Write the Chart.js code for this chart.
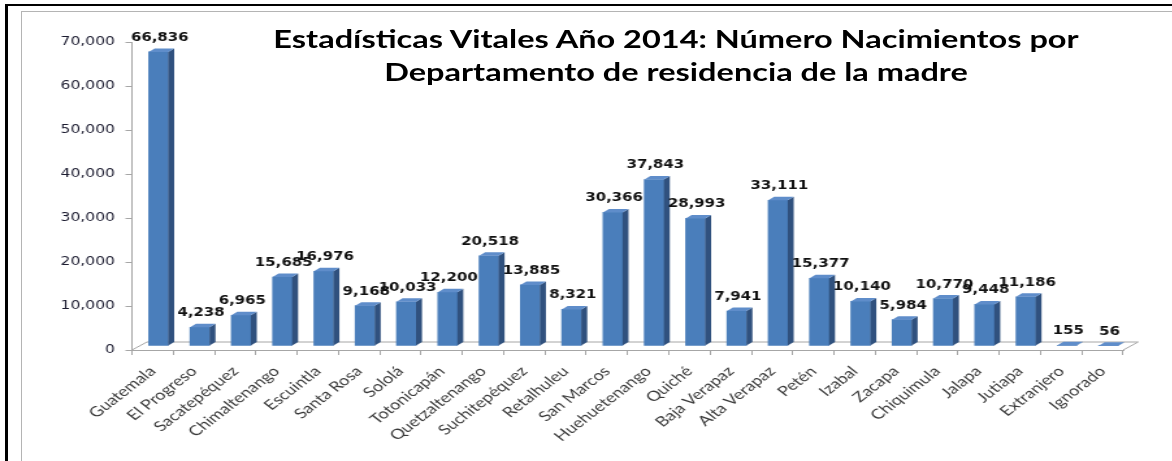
<!DOCTYPE html>
<html lang="es">
<head>
<meta charset="UTF-8">
<title>Nacimientos 2014</title>
<script src="https://cdn.jsdelivr.net/npm/chart.js@4.4.1/dist/chart.umd.min.js"></script>
<style>
  html, body { margin: 0; padding: 0; background: #fff; }
  body { width: 1172px; height: 461px; overflow: hidden; position: relative; }
  /* the original picture is stretched sideways, so the whole chart is too */
  #stage { position: absolute; left: 0; top: 0; width: 902px; height: 461px;
           transform: scaleX(1.3); transform-origin: 0 0; }
  #myChart { position: absolute; left: 0; top: 0; }
  #titulo { position: absolute; left: 0; top: 22px; width: 1040px; text-align: center;
            font: bold 25px Lato, sans-serif; line-height: 33.4px; color: #000; }
  .marco { position: absolute; }
</style>
</head>
<body>
<div class="marco" style="left:21px; top:11px; width:1200px; height:500px; border:1px solid #b4b4b4;"></div>
<div id="stage">
    <canvas id="myChart" width="902" height="461"></canvas>
    <div id="titulo">Estadísticas Vitales Año 2014: Número Nacimientos por<br>Departamento de residencia de la madre</div>
</div>
<div class="marco" style="left:5px; top:4px; width:1167px; height:2px; background:#000;"></div>
<div class="marco" style="left:5px; top:4px; width:3px; height:457px; background:#000;"></div>
<script>
    const departamentos = ['Guatemala', 'El Progreso', 'Sacatepéquez', 'Chimaltenango', 'Escuintla',
        'Santa Rosa', 'Sololá', 'Totonicapán', 'Quetzaltenango', 'Suchitepéquez', 'Retalhuleu',
        'San Marcos', 'Huehuetenango', 'Quiché', 'Baja Verapaz', 'Alta Verapaz', 'Petén', 'Izabal',
        'Zacapa', 'Chiquimula', 'Jalapa', 'Jutiapa', 'Extranjero', 'Ignorado'];
    const nacimientos = [66836, 4238, 6965, 15685, 16976, 9168, 10033, 12200, 20518, 13885, 8321,
        30366, 37843, 28993, 7941, 33111, 15377, 10140, 5984, 10770, 9448, 11186, 155, 56];
    const yTicks = [0, 10000, 20000, 30000, 40000, 50000, 60000, 70000];

    // fake 3d: bars pushed into the depth, plus side and top faces
    const DX = 4.5, DY = -4;
    const SIDE_X = 4.6, SIDE_Y = -3.5;
    const FLOOR_X = 11.5, FLOOR_Y = -8;

    const tresD = {
        id: 'tresD',
        beforeDatasetsDraw(chart) {
            const ctx = chart.ctx;
            const x = chart.scales.x, y = chart.scales.y;
            const y0 = y.getPixelForValue(0);
            ctx.save();
            ctx.beginPath();
            ctx.moveTo(x.left, y0);
            ctx.lineTo(x.left + FLOOR_X, y0 + FLOOR_Y);
            ctx.lineTo(x.right + FLOOR_X, y0 + FLOOR_Y);
            ctx.lineTo(x.right, y0);
            ctx.strokeStyle = '#a6a6a6';
            ctx.lineWidth = 1;
            ctx.stroke();
            ctx.restore();
            ctx.save();
            ctx.translate(DX, DY);
        },
        afterDatasetsDraw(chart) {
            const ctx = chart.ctx;
            const bars = chart.getDatasetMeta(0).data;
            bars.forEach(bar => {
                const p = bar.getProps(['x', 'y', 'base', 'width'], true);
                const l = p.x - p.width / 2, r = p.x + p.width / 2;
                ctx.fillStyle = '#30517e';
                ctx.beginPath();
                ctx.moveTo(r, p.y);
                ctx.lineTo(r + SIDE_X, p.y + SIDE_Y);
                ctx.lineTo(r + SIDE_X, p.base + SIDE_Y);
                ctx.lineTo(r, p.base);
                ctx.closePath();
                ctx.fill();
                ctx.fillStyle = '#5f8dca';
                ctx.beginPath();
                ctx.moveTo(l, p.y);
                ctx.lineTo(r, p.y);
                ctx.lineTo(r + SIDE_X, p.y + SIDE_Y);
                ctx.lineTo(l + SIDE_X, p.y + SIDE_Y);
                ctx.closePath();
                ctx.fill();
            });
            ctx.restore();

            ctx.save();
            ctx.font = 'bold 11.5px "DejaVu Sans"';
            ctx.fillStyle = '#111';
            ctx.textAlign = 'center';
            ctx.textBaseline = 'middle';
            bars.forEach((bar, i) => {
                const p = bar.getProps(['x', 'y'], true);
                ctx.fillText(nacimientos[i].toLocaleString('en-US'), p.x + DX + 1, p.y + DY - 14);
            });
            ctx.restore();
        }
    };

    const ctx = document.getElementById('myChart').getContext('2d');
    const myChart = new Chart(ctx, {
        type: 'bar',
        data: {
            labels: departamentos,
            datasets: [{
                label: 'Nacimientos',
                data: nacimientos,
                backgroundColor: '#4a7ebb',
                borderWidth: 0,
                barThickness: 15
            }]
        },
        options: {
            responsive: false,
            animation: false,
            layout: { padding: { top: 42, right: 38, bottom: 0, left: 0 } },
            plugins: { legend: { display: false }, tooltip: { enabled: false } },
            scales: {
                x: {
                    grid: { drawOnChartArea: false, tickLength: 5, color: '#a6a6a6', offset: true },
                    border: { color: '#a6a6a6' },
                    ticks: {
                        autoSkip: false, minRotation: 45, maxRotation: 45, padding: 8,
                        color: '#3a3a3a', font: { family: 'Lato', size: 14 }
                    },
                    afterFit: s => { s.height = 111; }
                },
                y: {
                    min: 0, max: 70000,
                    afterBuildTicks: s => { s.ticks = yTicks.map(v => ({ value: v })); },
                    grid: { drawOnChartArea: false, tickLength: 5, color: '#a6a6a6' },
                    border: { color: '#a6a6a6' },
                    ticks: {
                        padding: 8, color: '#1c1c30',
                        font: { family: 'DejaVu Sans', size: 12 },
                        callback: v => v.toLocaleString('en-US')
                    },
                    afterFit: s => { s.width = 101.5; }
                }
            }
        },
        plugins: [tresD]
    });
</script>
</body>
</html>
